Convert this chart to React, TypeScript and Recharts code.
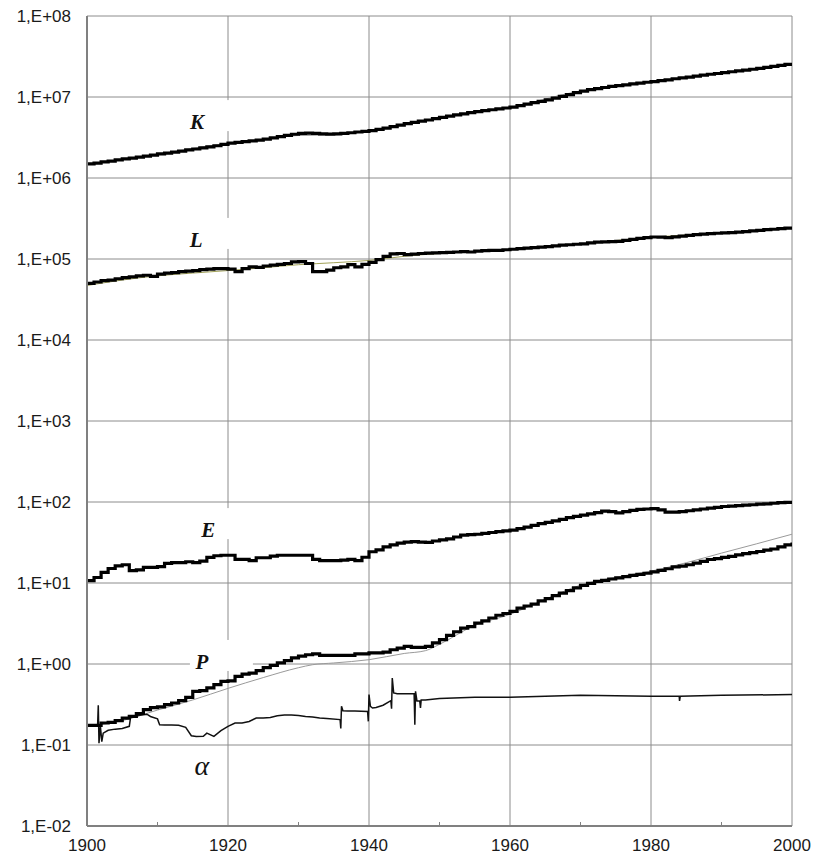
import React from 'react';
import {
  LineChart, Line, XAxis, YAxis, CartesianGrid, ReferenceDot
} from 'recharts';

// annual categories
const years = Array.from({ length: 101 }, (_, i) => 1900 + i);

// K, in millions
const kValues = [
  1.49, 1.53, 1.58, 1.62, 1.67, 1.72, 1.76, 1.81, 1.86, 1.92,
  1.98, 2.03, 2.09, 2.15, 2.22, 2.28, 2.35, 2.42, 2.5, 2.6,
  2.7, 2.76, 2.82, 2.88, 2.94, 3.02, 3.12, 3.24, 3.36, 3.47,
  3.56, 3.58, 3.55, 3.5, 3.49, 3.5, 3.55, 3.62, 3.7, 3.77,
  3.85, 3.98, 4.13, 4.3, 4.5, 4.7, 4.86, 5.03, 5.2, 5.4,
  5.6, 5.8, 6.0, 6.2, 6.4, 6.6, 6.78, 6.96, 7.14, 7.32,
  7.5, 7.82, 8.15, 8.5, 8.85, 9.2, 9.7, 10.2, 10.7, 11.3,
  11.8, 12.3, 12.7, 13.1, 13.5, 13.8, 14.1, 14.5, 14.8, 15.2,
  15.5, 15.9, 16.3, 16.8, 17.2, 17.6, 18.1, 18.6, 19.1, 19.5,
  20.0, 20.5, 21.0, 21.5, 22.0, 22.5, 23.2, 23.9, 24.6, 25.3,
  26.0,
];

// L, in thousands
const lValues = [
  50, 52, 54, 55, 57, 59, 60, 62, 63, 61,
  65, 67, 68, 70, 71, 72, 74, 75, 76, 76,
  75, 70, 76, 80, 79, 82, 84, 86, 88, 92,
  93, 88, 70, 70, 73, 78, 80, 85, 80, 86,
  91, 98, 108, 116, 117, 113, 115, 117, 118, 119,
  120, 121, 122, 123, 122, 125, 127, 128, 128, 130,
  132, 134, 136, 138, 140, 142, 145, 148, 150, 152,
  154, 158, 162, 163, 164, 165, 170, 175, 180, 184,
  187, 186, 184, 188, 192, 196, 200, 203, 206, 208,
  210, 212, 215, 218, 222, 226, 230, 233, 237, 241,
  245,
];

const eValues = [
  10.7, 11.7, 13.5, 15.1, 16.3, 16.8, 14.2, 14.5, 15.6, 15.6,
  15.9, 17.5, 17.8, 17.8, 18.3, 17.8, 18.6, 20.7, 21.7, 22.0,
  22.0, 19.6, 19.6, 18.9, 20.5, 20.5, 21.5, 22, 22, 22,
  22, 22, 19.6, 18.9, 18.9, 18.9, 19.2, 19.6, 18.9, 20.8,
  24.3, 25.7, 28, 29.5, 31, 32, 32.5, 32, 31.7, 33,
  34, 35, 37, 39, 39.5, 40, 41, 42, 43, 44,
  45, 47, 49, 51.5, 54, 56, 58.5, 61, 64, 66.5,
  69, 71.5, 74, 77, 76, 73.5, 76, 79, 81, 82,
  83, 80, 75, 75, 76, 78, 80, 82, 84, 86,
  88, 89, 90, 91.5, 92.5, 94, 95, 96.5, 98, 99,
  100,
];

const pValues = [
  0.175, 0.175, 0.187, 0.19, 0.2, 0.215, 0.225, 0.245, 0.273, 0.29,
  0.295, 0.315, 0.33, 0.353, 0.388, 0.46, 0.47, 0.506, 0.556, 0.61,
  0.62, 0.705, 0.75, 0.77, 0.83, 0.9, 0.96, 1.03, 1.1, 1.19,
  1.25, 1.3, 1.33, 1.28, 1.28, 1.28, 1.28, 1.28, 1.33, 1.33,
  1.37, 1.37, 1.4, 1.5, 1.57, 1.65, 1.6, 1.6, 1.65, 1.82,
  2.0, 2.26, 2.5, 2.78, 2.9, 3.2, 3.4, 3.7, 4.0, 4.2,
  4.47, 4.9, 5.2, 5.5, 6.0, 6.4, 7.0, 7.5, 8.06, 8.7,
  9.35, 9.9, 10.5, 10.8, 11.2, 11.6, 12.0, 12.4, 12.8, 13.2,
  13.7, 14.3, 15.0, 15.8, 16.2, 16.8, 17.6, 18.5, 19.5, 20.0,
  20.7, 21.3, 22.2, 23.0, 23.7, 24.5, 25.4, 26.3, 28.0, 29.6,
  31.7,
];

// fitted (thin) curves
const kFitYears = [1900, 1910, 1920, 1925, 1930, 1935, 1940, 1950, 1960, 1970, 1980, 1990, 2000];
const kFitValues = [1.47, 1.97, 2.68, 3.0, 3.35, 3.4, 3.8, 5.55, 7.45, 11.9, 15.4, 19.9, 25.9];

const lFitYears = [1900, 1905, 1910, 1915, 1920, 1925, 1930, 1935, 1940, 1945, 1950, 1955, 1960, 1970, 1980, 1990, 2000];
const lFitValues = [47, 55, 62, 67, 72, 78, 85, 90, 96, 108, 117, 124, 131, 153, 186, 209, 244];

const pFitYears = [1900, 1905, 1910, 1915, 1920, 1925, 1930, 1932, 1935, 1940, 1945, 1948, 1950, 1955, 1960, 1965, 1970, 1975, 1980, 1985, 1990, 1995, 2000];
const pFitValues = [0.17, 0.2, 0.27, 0.36, 0.5, 0.68, 0.9, 0.98, 1.03, 1.13, 1.35, 1.46, 1.75, 3.0, 4.1, 6.3, 9.4, 11.8, 14.0, 17.8, 23.4, 30.5, 40];

// alpha, sampled finer where it jumps
const alphaYears = [
  1900, 1901.5, 1901.6, 1901.7, 1901.9, 1902.1, 1902.3, 1903, 1904, 1905,
  1906, 1906.2, 1907, 1908, 1908.5, 1909, 1910, 1910.3, 1911, 1912,
  1913, 1914, 1914.8, 1915.5, 1916.5, 1917, 1918, 1919, 1920, 1921,
  1922, 1923, 1924, 1925, 1926, 1927, 1928, 1929, 1930, 1931,
  1932, 1933, 1934, 1935.9, 1936, 1936.1, 1936.3, 1937, 1938, 1939.8,
  1939.9, 1940, 1940.2, 1940.5, 1941, 1942, 1943.1, 1943.2, 1943.3, 1943.5,
  1944, 1945, 1946.4, 1946.5, 1946.6, 1946.8, 1947.2, 1947.3, 1947.4, 1948,
  1950, 1955, 1960, 1965, 1970, 1975, 1980, 1984, 1984.05, 1984.15,
  1990, 2000,
];
const alphaValues = [
  0.17, 0.17, 0.31, 0.105, 0.17, 0.11, 0.14, 0.152, 0.157, 0.16,
  0.17, 0.225, 0.23, 0.236, 0.24, 0.225, 0.21, 0.178, 0.176, 0.176,
  0.175, 0.165, 0.13, 0.127, 0.128, 0.14, 0.128, 0.15, 0.17, 0.187,
  0.187, 0.195, 0.215, 0.215, 0.218, 0.23, 0.235, 0.235, 0.232, 0.225,
  0.222, 0.215, 0.213, 0.206, 0.16, 0.3, 0.265, 0.262, 0.262, 0.26,
  0.196, 0.42, 0.3, 0.286, 0.29, 0.31, 0.353, 0.28, 0.67, 0.44,
  0.43, 0.43, 0.43, 0.178, 0.46, 0.35, 0.35, 0.287, 0.36, 0.36,
  0.374, 0.388, 0.388, 0.4, 0.41, 0.405, 0.4, 0.4, 0.35, 0.4,
  0.41, 0.42,
];

const yTicks = [1e-2, 1e-1, 1, 1e1, 1e2, 1e3, 1e4, 1e5, 1e6, 1e7, 1e8];
const xTicks = [1900, 1910, 1920, 1930, 1940, 1950, 1960, 1970, 1980, 1990, 2000];
const xGrid = [1900, 1920, 1940, 1960, 1980, 2000];

// series labels placed in data coordinates
const seriesLabels = [
  { text: 'K', year: 1915.6, value: 4.9e6, box: true },
  { text: 'L', year: 1915.5, value: 1.72e5, box: true },
  { text: 'E', year: 1917.2, value: 45, box: true },
  { text: 'P', year: 1916.3, value: 1.06, box: true },
  { text: 'α', year: 1916.3, value: 0.057, box: false },
];

const mainData = years.map((year, i) => ({
  year,
  K: kValues[i] * 1e6,
  L: lValues[i] * 1e3,
  E: eValues[i],
  P: pValues[i],
}));
const kFit = kFitYears.map((year, i) => ({ year, v: kFitValues[i] * 1e6 }));
const lFit = lFitYears.map((year, i) => ({ year, v: lFitValues[i] * 1e3 }));
const pFit = pFitYears.map((year, i) => ({ year, v: pFitValues[i] }));
const alphaData = alphaYears.map((year, i) => ({ year, v: alphaValues[i] }));

const SANS = '"Liberation Sans", Arial, sans-serif';
const SERIF = '"Liberation Serif", "Times New Roman", serif';

const fmtExp = (v: number) => {
  const e = Math.round(Math.log10(v));
  const s = String(Math.abs(e)).padStart(2, '0');
  return `1,E${e < 0 ? '-' : '+'}${s}`;
};

const XTick = (props: any) => {
  const { x, y, payload } = props;
  const major = payload.value % 20 === 0;
  if (!major) {
    return <line x1={x} x2={x} y1={y - 13} y2={y - 17} stroke="#808080" strokeWidth={1} />;
  }
  return (
    <text x={x} y={y} dy="0.71em" textAnchor="middle" fontSize={17} fontFamily={SANS} fill="#1a1a1a">
      {payload.value}
    </text>
  );
};

const makeLabel = (text: string, box: boolean) => (props: any) => {
  const { cx, cy } = props;
  const isAlpha = text === 'α';
  return (
    <g>
      {box && <rect x={cx - 12} y={cy - 22} width={63} height={31} fill="#fff" />}
      <text
        x={cx}
        y={cy}
        dy="0.35em"
        textAnchor="middle"
        fontSize={isAlpha ? 28 : 21}
        fontStyle="italic"
        fontWeight={isAlpha ? 'normal' : 'bold'}
        fontFamily={SERIF}
        fill="#111"
      >
        {text}
      </text>
    </g>
  );
};

export default function App() {
  return (
    <div style={{ position: 'absolute', left: 0, top: 0, width: 814, height: 854, background: '#fff' }}>
      <LineChart
        width={814}
        height={854}
        data={mainData}
        margin={{ top: 16, right: 22, bottom: 0, left: 0 }}
      >
        <CartesianGrid
          stroke="#8c8c8c"
          strokeWidth={1}
          horizontalValues={yTicks}
          verticalValues={xGrid}
        />
        <XAxis
          dataKey="year"
          type="number"
          domain={[1900, 2000]}
          ticks={xTicks}
          tick={<XTick />}
          tickLine={false}
          tickSize={0}
          tickMargin={13}
          height={28}
          axisLine={{ stroke: '#808080', strokeWidth: 2 }}
          allowDataOverflow
        />
        <YAxis
          scale="log"
          type="number"
          domain={[1e-2, 1e8]}
          ticks={yTicks}
          tickFormatter={fmtExp}
          tick={{ fontSize: 17, fontFamily: SANS, fill: '#1a1a1a' }}
          tickLine={false}
          tickSize={0}
          tickMargin={16}
          width={87}
          axisLine={{ stroke: '#808080', strokeWidth: 2 }}
          allowDataOverflow
        />
        {seriesLabels.map((lb) => (
          <ReferenceDot
            key={lb.text}
            x={lb.year}
            y={lb.value}
            r={1}
            shape={makeLabel(lb.text, lb.box)}
          />
        ))}
        <Line data={kFit} dataKey="v" type="monotone" stroke="#9a9a9a" strokeWidth={1} dot={false} isAnimationActive={false} />
        <Line data={lFit} dataKey="v" type="monotone" stroke="#a3a35a" strokeWidth={1} dot={false} isAnimationActive={false} />
        <Line data={pFit} dataKey="v" type="monotone" stroke="#9a9a9a" strokeWidth={1} dot={false} isAnimationActive={false} />
        <Line data={alphaData} dataKey="v" type="linear" stroke="#111" strokeWidth={1.5} dot={false} isAnimationActive={false} />
        <Line dataKey="K" type="stepAfter" stroke="#000" strokeWidth={3.2} dot={false} isAnimationActive={false} />
        <Line dataKey="L" type="stepAfter" stroke="#000" strokeWidth={3.2} dot={false} isAnimationActive={false} />
        <Line dataKey="E" type="stepAfter" stroke="#000" strokeWidth={3.2} dot={false} isAnimationActive={false} />
        <Line dataKey="P" type="stepAfter" stroke="#000" strokeWidth={3.2} dot={false} isAnimationActive={false} />
      </LineChart>
    </div>
  );
}
